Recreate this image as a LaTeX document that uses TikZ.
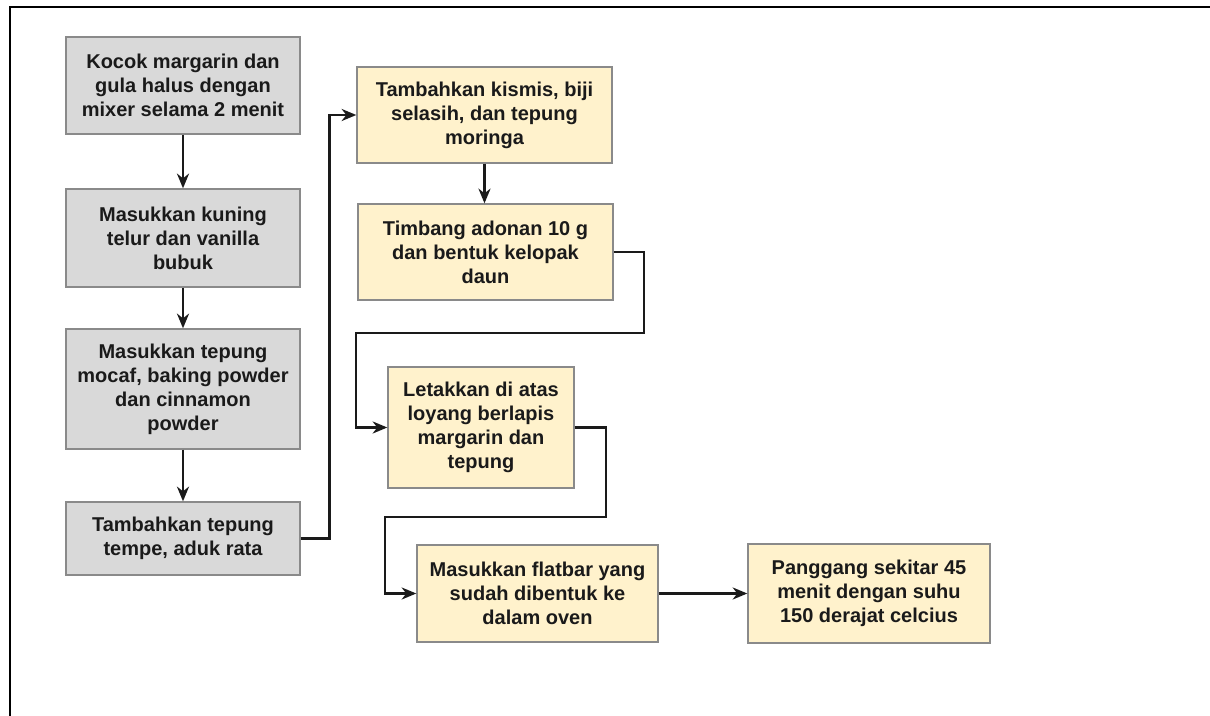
\documentclass[tikz,border=0pt]{standalone}
\usepackage{fontspec}
\setmainfont{Liberation Sans}
\usetikzlibrary{arrows.meta,calc}
\definecolor{grayfill}{HTML}{D9D9D9}
\definecolor{yelfill}{HTML}{FFF2CC}
\definecolor{boxline}{HTML}{8A8A8A}
\definecolor{ink}{HTML}{1A1A1A}
\tikzset{
  stepbox/.style={draw=boxline, line width=1pt, inner sep=0pt, align=center,
    font=\fontsize{15pt}{18pt}\selectfont\bfseries, text=ink},
  graybox/.style={stepbox, fill=grayfill},
  yelbox/.style={stepbox, fill=yelfill},
  conn/.style={draw=ink, line width=1.9pt, -{Stealth[length=11pt,width=9pt,inset=3.5pt]}},
}
\begin{document}
\begin{tikzpicture}[x=0.75pt,y=-0.75pt]
\useasboundingbox (0,0) rectangle (1210,716);
\fill[white] (0,0) rectangle (1210,716);
% frame
\draw[line width=2pt] (10,716) -- (10,7) -- (1210,7);
% gray column
\node[graybox, minimum width=234*0.75pt, minimum height=97*0.75pt] (g1) at (183,85.5)
  {Kocok margarin dan\\gula halus dengan\\mixer selama 2 menit};
\node[graybox, minimum width=234*0.75pt, minimum height=98*0.75pt] (g2) at (183,238)
  {Masukkan kuning\\telur dan vanilla\\bubuk};
\node[graybox, minimum width=234*0.75pt, minimum height=120*0.75pt] (g3) at (183,389)
  {Masukkan tepung\\mocaf, baking powder\\dan cinnamon\\powder};
\node[graybox, minimum width=234*0.75pt, minimum height=73*0.75pt] (g4) at (183,538.5)
  {Tambahkan tepung\\tempe, aduk rata};
% yellow boxes
\node[yelbox, minimum width=255*0.75pt, minimum height=96*0.75pt] (y1) at (484.5,115)
  {Tambahkan kismis, biji\\selasih, dan tepung\\moringa};
\node[yelbox, minimum width=255*0.75pt, minimum height=96*0.75pt] (y2) at (485.5,252)
  {Timbang adonan 10 g\\dan bentuk kelopak\\daun};
\node[yelbox, minimum width=186*0.75pt, minimum height=121*0.75pt] (y3) at (481,427.5)
  {Letakkan di atas\\loyang berlapis\\margarin dan\\tepung};
\node[yelbox, minimum width=241*0.75pt, minimum height=97*0.75pt] (y4) at (537.5,593.5)
  {Masukkan flatbar yang\\sudah dibentuk ke\\dalam oven};
\node[yelbox, minimum width=242*0.75pt, minimum height=99*0.75pt] (y5) at (869,593.5)
  {Panggang sekitar 45\\menit dengan suhu\\150 derajat celcius};
% bend points
\coordinate (b1) at (329.5,538.5);
\coordinate (b2) at (644,333);
\coordinate (b3) at (356,333);
\coordinate (b4) at (606,517);
\coordinate (b5) at (385,517);
% connectors
\draw[conn] (g1.south) -- (g2.north);
\draw[conn] (g2.south) -- (g3.north);
\draw[conn] (g3.south) -- (g4.north);
\draw[conn] (g4.east) -- (b1) |- (y1.west);
\draw[conn] (y1.south) -- (y1.south |- y2.north);
\draw[conn] (y2.east) -| (b2) -- (b3) |- (y3.west);
\draw[conn] (y3.east) -| (b4) -- (b5) |- (y4.west);
\draw[conn] (y4.east) -- (y5.west);
\end{tikzpicture}
\end{document}
